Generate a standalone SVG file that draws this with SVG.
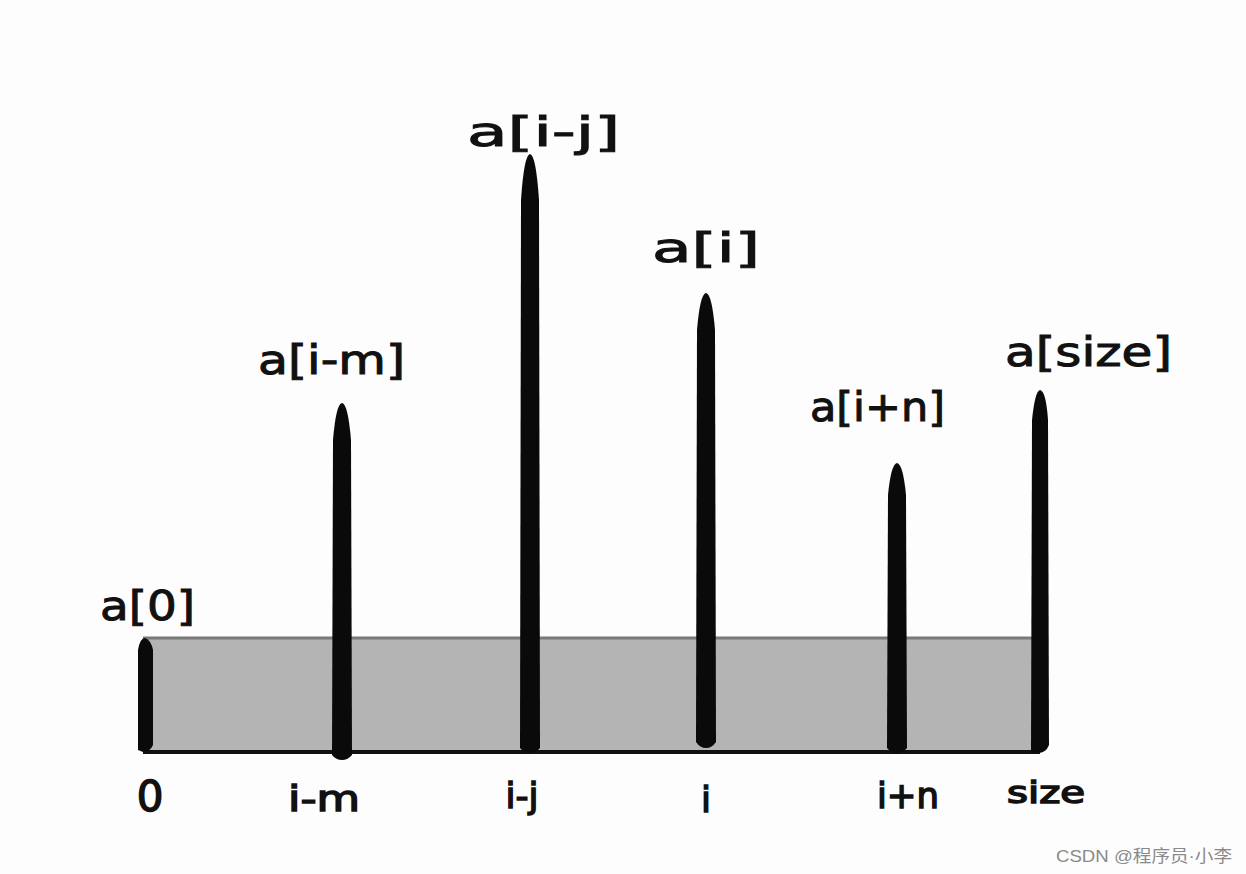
<svg xmlns="http://www.w3.org/2000/svg" width="1246" height="874" viewBox="0 0 1246 874">
<style>
.lbl{font-family:"DejaVu Sans","Liberation Sans",sans-serif;font-size:40px;fill:#111;stroke:#111;stroke-width:1}
.idx{font-family:"DejaVu Sans","Liberation Sans",sans-serif;font-size:36px;fill:#111;stroke:#111;stroke-width:1.5;text-anchor:middle}
.bar{fill:#0a0a0a}
.wm{font-family:"Liberation Sans","Noto Sans CJK SC",sans-serif;font-size:17px;fill:#8a8a8a}
</style>
<rect width="1246" height="874" fill="#fdfdfd"/>
<g id="array">
<rect x="143" y="638" width="897" height="114" fill="#b4b4b4"/>
<line x1="143" y1="638" x2="1040" y2="638" stroke="#7a7a7a" stroke-width="3"/>
<line x1="143" y1="752" x2="1040" y2="752" stroke="#111" stroke-width="4"/>
</g>
<g id="bar-a0"><path class="bar" d="M138,750 L138,650 Q140,638 145,638 Q151,640 153,650 L153,745 Q150,752 143,752 Z"/></g>
<g id="bar-im"><path class="bar" d="M332,755 L333,440 Q336,404 342,403 Q348,404 351,440 L352,755 Q348,760 342,760 Q336,760 332,755 Z"/></g>
<g id="bar-ij"><path class="bar" d="M520,748 L521,200 Q524,155 530,154 Q536,155 539,200 L540,748 Q536,753 530,753 Q524,753 520,748 Z"/></g>
<g id="bar-i"><path class="bar" d="M696,742 L697,330 Q700,294 706,293 Q712,294 715,330 L716,742 Q712,748 706,748 Q700,748 696,742 Z"/></g>
<g id="bar-in"><path class="bar" d="M887,748 L888,495 Q891,464 897,463 Q903,464 906,495 L907,748 Q903,753 897,753 Q891,753 887,748 Z"/></g>
<g id="bar-size"><path class="bar" d="M1031,752 L1032,420 Q1035,391 1040,390 Q1046,391 1048,420 L1049,745 Q1046,753 1038,753 Z"/></g>
<g id="labels">
<text class="lbl" x="100" y="620" textLength="95" lengthAdjust="spacingAndGlyphs">a[0]</text>
<text class="lbl" x="258" y="374" textLength="147" lengthAdjust="spacingAndGlyphs">a[i-m]</text>
<text class="lbl" x="467" y="146" textLength="153" lengthAdjust="spacingAndGlyphs">a[i-j]</text>
<text class="lbl" x="652" y="262" textLength="108" lengthAdjust="spacingAndGlyphs">a[i]</text>
<text class="lbl" x="810" y="421" textLength="135" lengthAdjust="spacingAndGlyphs">a[i+n]</text>
<text class="lbl" x="1005" y="366" textLength="167" lengthAdjust="spacingAndGlyphs">a[size]</text>
</g>
<g id="indices">
<text class="idx" x="150" y="811" style="font-size:42px">0</text>
<text class="idx" x="324" y="811" textLength="72" lengthAdjust="spacingAndGlyphs">i-m</text>
<text class="idx" x="522" y="808">i-j</text>
<text class="idx" x="706" y="812">i</text>
<text class="idx" x="908" y="808" textLength="62" lengthAdjust="spacingAndGlyphs">i+n</text>
<text class="idx" x="1046" y="803" style="font-size:30px" textLength="78" lengthAdjust="spacingAndGlyphs">size</text>
</g>
<text class="wm" x="1056" y="862" textLength="176" lengthAdjust="spacingAndGlyphs">CSDN @程序员·小李</text>
</svg>
